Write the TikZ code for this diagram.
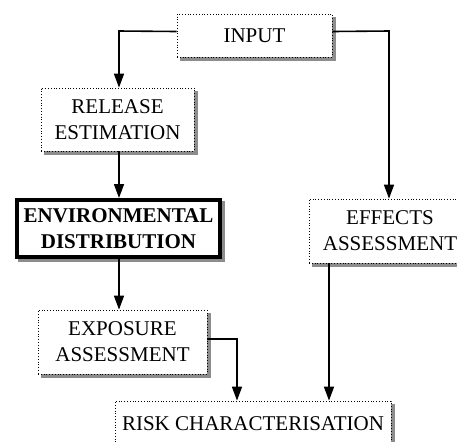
\documentclass[tikz,border=0pt]{standalone}
\usepackage{fontspec}
\setmainfont{Liberation Serif}
\usepackage{tikz}
\usetikzlibrary{arrows.meta,backgrounds}
\usepackage{xcolor}
\definecolor{BoxShadow}{HTML}{8C8C8C}

\tikzset{
  stage/.style={draw,densely dotted,thin,fill=white,align=center,inner sep=0pt,
    font=\fontsize{10.5}{13}\selectfont},
  keystage/.style={stage,solid,line width=2pt,font=\fontsize{10.5}{13}\selectfont\bfseries},
  flow/.style={-{Triangle[length=7pt,width=5pt]},line width=0.8pt}
}

\begin{document}
\begin{tikzpicture}[x=0.5pt,y=-0.5pt]
  \useasboundingbox (0,0) rectangle (457,441);
  \node[stage,minimum width=77.5pt,minimum height=21.5pt] (In) at (254.5,35.5) {INPUT};
  \node[stage,minimum width=76.5pt,minimum height=31.5pt] (Rel) at (117.5,119.5) {RELEASE\\ESTIMATION};
  \node[keystage,minimum width=101.5pt,minimum height=28.5pt] (Env) at (118.5,228.5) {ENVIRONMENTAL\\DISTRIBUTION};
  \node[stage,minimum width=84.5pt,minimum height=32pt] (Exp) at (122.5,342) {EXPOSURE\\ASSESSMENT};
  \node[stage,minimum width=81pt,minimum height=32pt] (Eff) at (390,231) {EFFECTS\\ASSESSMENT};
  \node[stage,minimum width=138pt,minimum height=23pt] (Risk) at (253,424) {RISK CHARACTERISATION};
  % grey drop shadows behind the boxes
  \begin{scope}[on background layer]
    \fill[white] (0,0) rectangle (457,441);
    \foreach \n in {In,Rel,Env,Exp,Eff,Risk}
      \fill[BoxShadow] ([xshift=1.6pt,yshift=-1.6pt]\n.south west) rectangle ([xshift=1.6pt,yshift=-1.6pt]\n.north east);
  \end{scope}
  \coordinate (Spine) at (119,0);
  \coordinate (InL) at (119,31);
  \coordinate (InR) at (389,31);
  \coordinate (ExpR) at (237,339);
  \coordinate (EffDown) at (329,0);
  \draw[flow] ([yshift=2pt]In.west) -- (InL) -- (Rel.north -| Spine);
  \draw[flow] ([yshift=2pt]In.east) -- (InR) -- (Eff.north -| InR);
  \draw[flow] (Rel.south -| Spine) -- (Env.north -| Spine);
  \draw[flow] (Env.south -| Spine) -- (Exp.north -| Spine);
  \draw[flow] ([yshift=1.5pt]Exp.east) -- (ExpR) -- (Risk.north -| ExpR);
  \draw[flow] (Eff.south -| EffDown) -- (Risk.north -| EffDown);
\end{tikzpicture}
\end{document}
